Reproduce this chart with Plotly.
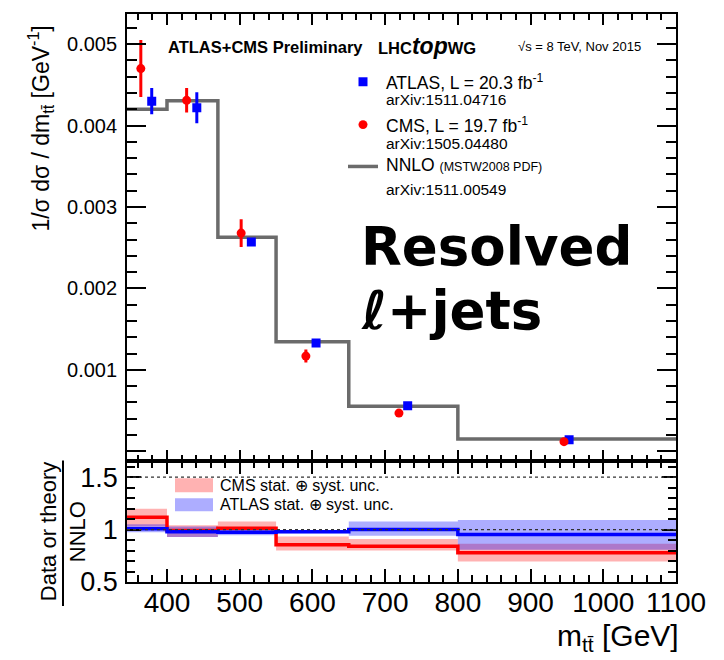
import plotly.graph_objects as go

# ---------------- data ----------------
bin_edges = [345, 400, 470, 550, 650, 800, 1100]
nnlo = [4.20e-3, 4.305e-3, 2.63e-3, 1.346e-3, 0.553e-3, 0.152e-3]

atlas_x = [379, 441, 516, 605, 731, 953]
atlas_y = [4.30e-3, 4.22e-3, 2.57e-3, 1.33e-3, 0.559e-3, 0.143e-3]
atlas_err = [0.16e-3, 0.19e-3, 0.05e-3, 0.02e-3, 0.01e-3, 0.005e-3]

cms_x = [364, 427, 502, 591, 719, 946]
cms_y = [4.70e-3, 4.31e-3, 2.68e-3, 1.17e-3, 0.47e-3, 0.119e-3]
cms_err = [0.35e-3, 0.15e-3, 0.17e-3, 0.08e-3, 0.03e-3, 0.01e-3]

cms_ratio = [1.117, 0.99, 1.012, 0.854, 0.84, 0.78]
cms_ratio_lo = [1.03, 0.93, 0.96, 0.80, 0.80, 0.695]
cms_ratio_hi = [1.197, 1.04, 1.076, 0.933, 0.91, 0.864]

atlas_ratio = [1.007, 0.98, 0.975, 0.98, 1.0, 0.952]
atlas_ratio_lo = [0.975, 0.93, 0.945, 0.965, 0.94, 0.807]
atlas_ratio_hi = [1.05, 1.03, 1.005, 0.995, 1.076, 1.092]

x_ticks = [400, 500, 600, 700, 800, 900, 1000, 1100]
y_main_ticks = [0, 0.001, 0.002, 0.003, 0.004, 0.005]
y_main_labels = ["", "0.001", "0.002", "0.003", "0.004", "0.005"]
y_ratio_ticks = [0.5, 1, 1.5]
y_ratio_labels = ["0.5", "1", "1.5"]

# ---------------- geometry helpers (pixels -> paper) ----------------
L, R, T, B = 127, 676, 12, 582
W, H = R - L, B - T
def px(x):
    return (x - L) / W
def py(y):
    return (B - y) / H

split = py(460.7)
FONT = "Liberation Sans, Arial, sans-serif"

def step(vals):
    return list(vals) + [vals[-1]]

def band(lo, hi):
    xs, ys = [], []
    for i in range(len(lo)):
        x0, x1 = bin_edges[i], bin_edges[i + 1]
        xs += [x0, x1, x1, x0, x0, None]
        ys += [lo[i], lo[i], hi[i], hi[i], lo[i], None]
    return xs, ys

fig = go.Figure()

# main panel
fig.add_trace(go.Scatter(x=bin_edges, y=step(nnlo), mode="lines", line_shape="hv",
                         line=dict(color="#6b6b6b", width=3.5), xaxis="x", yaxis="y",
                         showlegend=False, hoverinfo="skip"))
fig.add_trace(go.Scatter(x=atlas_x, y=atlas_y, mode="markers",
                         marker=dict(symbol="square", size=9, color="#0000ff"),
                         error_y=dict(type="data", array=atlas_err, thickness=3, width=0, color="#0000ff"),
                         xaxis="x", yaxis="y", showlegend=False))
fig.add_trace(go.Scatter(x=cms_x, y=cms_y, mode="markers",
                         marker=dict(symbol="circle", size=9, color="#ff0000"),
                         error_y=dict(type="data", array=cms_err, thickness=3, width=0, color="#ff0000"),
                         xaxis="x", yaxis="y", showlegend=False))

# ratio panel
bx, by = band(cms_ratio_lo, cms_ratio_hi)
fig.add_trace(go.Scatter(x=bx, y=by, fill="toself", mode="none", fillcolor="rgba(255,0,0,0.3)",
                         xaxis="x2", yaxis="y2", showlegend=False, hoverinfo="skip"))
bx, by = band(atlas_ratio_lo, atlas_ratio_hi)
fig.add_trace(go.Scatter(x=bx, y=by, fill="toself", mode="none", fillcolor="rgba(0,0,255,0.32)",
                         xaxis="x2", yaxis="y2", showlegend=False, hoverinfo="skip"))
fig.add_trace(go.Scatter(x=bin_edges, y=step(cms_ratio), mode="lines", line_shape="hv",
                         line=dict(color="#ff0000", width=3.5), xaxis="x2", yaxis="y2",
                         showlegend=False, hoverinfo="skip"))
fig.add_trace(go.Scatter(x=bin_edges, y=step(atlas_ratio), mode="lines", line_shape="hv",
                         line=dict(color="#0000ff", width=3.5), xaxis="x2", yaxis="y2",
                         showlegend=False, hoverinfo="skip"))

for yv in [1.0, 1.5]:
    fig.add_shape(type="line", xref="x2 domain", yref="y2", x0=0, x1=1, y0=yv, y1=yv,
                  line=dict(color="#333333", width=1.2, dash="dot"))

axis_common = dict(showgrid=False, zeroline=False, showline=True, linecolor="black",
                   linewidth=1.8, mirror="allticks", ticks="inside", tickcolor="black",
                   tickwidth=1.5)

fig.update_layout(
    width=724, height=660,
    margin=dict(l=L, r=724 - R, t=T, b=660 - B),
    paper_bgcolor="white", plot_bgcolor="white",
    font=dict(family=FONT, color="black"),
    xaxis=dict(domain=[0, 1], anchor="y", range=[345, 1100], tickvals=x_ticks,
               showticklabels=False, ticklen=11,
               minor=dict(ticks="inside", ticklen=6, dtick=20, tick0=0, tickcolor="black", tickwidth=1.5),
               **axis_common),
    yaxis=dict(domain=[split, 1], anchor="x", range=[-0.00012, 0.00537],
               tickvals=y_main_ticks, ticktext=y_main_labels, ticklen=19,
               tickfont=dict(size=20, family=FONT), ticklabelstandoff=4,
               minor=dict(ticks="inside", ticklen=10, dtick=0.0002, tick0=0, tickcolor="black", tickwidth=1.5),
               **axis_common),
    xaxis2=dict(domain=[0, 1], anchor="y2", range=[345, 1100], matches="x", tickvals=x_ticks,
                ticktext=[str(v) for v in x_ticks], ticklen=13,
                tickfont=dict(size=28, family=FONT), ticklabelstandoff=-6,
                minor=dict(ticks="inside", ticklen=7, dtick=20, tick0=0, tickcolor="black", tickwidth=1.5),
                **axis_common),
    yaxis2=dict(domain=[0, split], anchor="x2", range=[0.5, 1.652],
                tickvals=y_ratio_ticks, ticktext=y_ratio_labels, ticklen=14,
                tickfont=dict(size=27, family=FONT), ticklabelstandoff=2,
                minor=dict(ticks="inside", ticklen=8, dtick=0.1, tick0=0, tickcolor="black", tickwidth=1.5),
                **axis_common),
)

ann = []
def A(text, x, y, size, xanchor="left", yanchor="middle", family=FONT, angle=0, color="black"):
    ann.append(dict(text=text, x=px(x), y=py(y), xref="paper", yref="paper", showarrow=False,
                    xanchor=xanchor, yanchor=yanchor, textangle=angle,
                    font=dict(size=size, family=family, color=color)))

# header
A("<b>ATLAS+CMS Preliminary</b>", 166, 45, 16.5)
A("<b>LHC<i><span style='font-size:23px'>top</span></i>WG</b>", 376, 44, 16.5)
A("√s = 8 TeV, Nov 2015", 516, 45, 13)

# main legend
A("ATLAS, L = 20.3 fb<sup>-1</sup>", 384, 80, 17.5)
A("arXiv:1511.04716", 384, 98, 15.5)
A("CMS, L = 19.7 fb<sup>-1</sup>", 384, 123, 17.5)
A("arXiv:1505.04480", 384, 142, 15.5)
A("NNLO <span style='font-size:12.5px'>(MSTW2008 PDF)</span>", 384, 164, 17.5)
A("arXiv:1511.00549", 384, 188, 15.5)

# big label
A("<b>Resolved</b>", 359, 245, 53, family="DejaVu Sans")
A("<b>ℓ+jets</b>", 359, 310, 53, family="DejaVu Sans")

# ratio legend
A("CMS stat. ⊕ syst. unc.", 218, 485, 16)
A("ATLAS stat. ⊕ syst. unc.", 218, 504, 16)

# axis titles
A("1/σ dσ / dm<sub>tt̄</sub> [GeV<sup>-1</sup>]", 40, 127, 23, xanchor="center", angle=-90)
A("Data or theory", 48, 532, 22, xanchor="center", angle=-90)
A("NNLO", 77, 532, 22, xanchor="center", angle=-90)
A("m<sub>tt̄</sub> [GeV]", 681, 638, 30, xanchor="right")

fig.update_layout(annotations=ann)

# legend keys
def rect(x0, y0, x1, y1, color):
    fig.add_shape(type="rect", xref="paper", yref="paper", x0=px(x0), x1=px(x1), y0=py(y1), y1=py(y0),
                  fillcolor=color, line=dict(width=0))

rect(358.5, 75.5, 367.5, 84.5, "#0000ff")
fig.add_shape(type="circle", xref="paper", yref="paper", x0=px(358.5), x1=px(367.5), y0=py(127.5), y1=py(118.5),
              fillcolor="#ff0000", line=dict(width=0))
fig.add_shape(type="line", xref="paper", yref="paper", x0=px(348), x1=px(378), y0=py(165), y1=py(165),
              line=dict(color="#6b6b6b", width=3.5))
rect(175, 478, 213, 492, "rgba(255,0,0,0.3)")
rect(175, 498, 213, 511, "rgba(0,0,255,0.32)")
# fraction bar of ratio title
fig.add_shape(type="line", xref="paper", yref="paper", x0=px(63), x1=px(63), y0=py(460), y1=py(606),
              line=dict(color="black", width=2))

fig.write_html("out.html")
